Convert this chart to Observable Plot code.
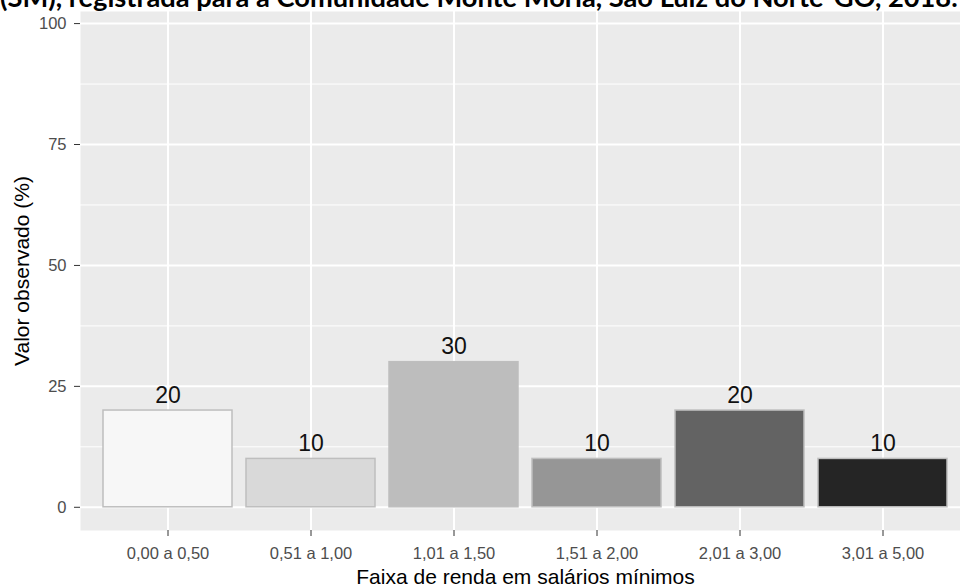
<!DOCTYPE html>
<html>
<head>
<meta charset="utf-8">
<script src="https://cdn.jsdelivr.net/npm/d3@7"></script>
<script src="https://cdn.jsdelivr.net/npm/@observablehq/plot@0.6"></script>
<style>
  html, body { margin: 0; padding: 0; background: white; }
  #wrap { position: relative; width: 960px; height: 586px; overflow: hidden; background: white; }
  #title { position: absolute; left: 0; top: 0; white-space: nowrap; font-family: Lato, "Open Sans", sans-serif; font-weight: bold; font-size: 22px; line-height: 1.2; color: #000; z-index: 2; }
  #chart { position: absolute; left: 0; top: 0; }
</style>
</head>
<body>
<div id="wrap">
  <div id="title"><span id="tt">(SM), registrada para a Comunidade Monte Moria, São Luiz do Norte-GO, 2018.</span><span id="bl" style="display:inline-block;width:0;height:0;vertical-align:baseline"></span></div>
  <div id="chart"></div>
</div>
<script>
const categories = ["0,00 a 0,50", "0,51 a 1,00", "1,01 a 1,50", "1,51 a 2,00", "2,01 a 3,00", "3,01 a 5,00"];
const values = [20, 10, 30, 10, 20, 10];
const colors = ["#F7F7F7", "#D9D9D9", "#BDBDBD", "#969696", "#636363", "#252525"];
const yTicks = [0, 25, 50, 75, 100];
const yMinor = [12.5, 37.5, 62.5, 87.5];
const xTitle = "Faixa de renda em salários mínimos";
const yTitle = "Valor observado (%)";

const data = categories.map((c, i) => ({cat: c, value: values[i], color: colors[i]}));

const chart = Plot.plot({
  width: 960,
  height: 586,
  marginLeft: 80,
  marginRight: 0,
  marginTop: 11,
  marginBottom: 56,
  style: {fontFamily: "'Liberation Sans', Arial, sans-serif", background: "white", overflow: "visible"},
  x: {type: "band", domain: categories, range: [80, 970], paddingInner: 0.1, paddingOuter: 0.15, align: 0.5, label: null},
  y: {domain: [-4.8, 102.5], range: [530, 11], label: null},
  color: {type: "identity"},
  marks: [
    Plot.frame({fill: "#EBEBEB", stroke: "none"}),
    Plot.ruleY(yMinor, {stroke: "white", strokeWidth: 1}),
    Plot.ruleY(yTicks, {stroke: "white", strokeWidth: 2}),
    Plot.ruleX(categories, {x: d => d, stroke: "white", strokeWidth: 2}),
    Plot.barY(data, {x: "cat", y: "value", fill: "color", stroke: "#BEBEBE", strokeWidth: 1.5}),
    Plot.text(data, {x: "cat", y: "value", text: d => String(d.value), dy: -8, lineAnchor: "bottom", fontSize: 23, fill: "#111"}),
    Plot.axisX({ticks: categories, tickSize: 6, tickPadding: 11, fontSize: 16.5, fill: "#4D4D4D", stroke: "#333333", label: null}),
    Plot.axisY({ticks: yTicks, tickSize: 6, tickPadding: 8, fontSize: 16.5, fill: "#4D4D4D", stroke: "#333333", label: null}),
    Plot.text([xTitle], {frameAnchor: "bottom", textAnchor: "middle", dx: 5, dy: 53, lineAnchor: "bottom", fontSize: 21, fill: "#000"}),
    Plot.text([yTitle], {frameAnchor: "left", textAnchor: "middle", dx: -52, rotate: -90, lineAnchor: "bottom", fontSize: 21, fill: "#000"})
  ]
});
document.getElementById("chart").appendChild(chart);

// fit title width and place its baseline
const title = document.getElementById("title");
const tt = document.getElementById("tt");
const w = tt.getBoundingClientRect().width;
title.style.fontSize = (22 * 958 / w) + "px";
const wrapTop = document.getElementById("wrap").getBoundingClientRect().top;
const bl = document.getElementById("bl").getBoundingClientRect().bottom - wrapTop;
title.style.top = (7 - bl) + "px";
</script>
</body>
</html>
